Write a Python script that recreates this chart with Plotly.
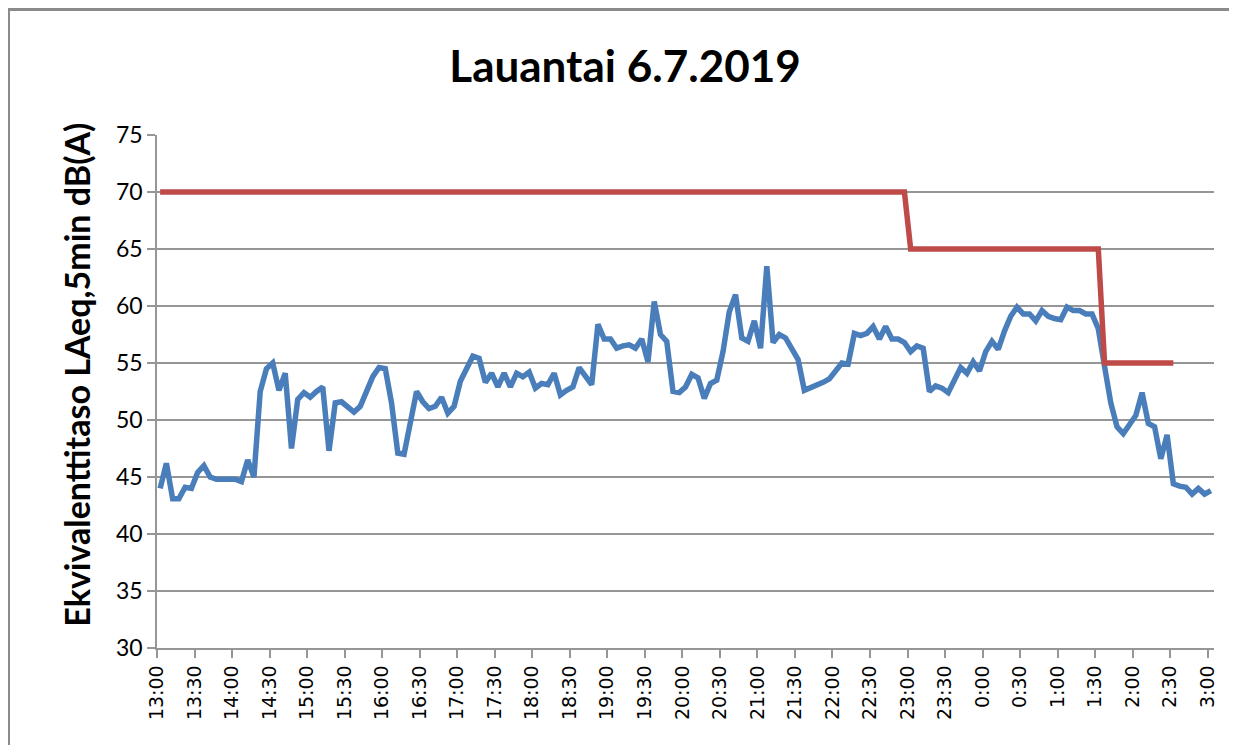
import plotly.graph_objects as go

# 5-minute measurement slots from 13:00 to 3:00 (169 points)
tick_labels = ["13:00", "13:30", "14:00", "14:30", "15:00", "15:30", "16:00", "16:30",
               "17:00", "17:30", "18:00", "18:30", "19:00", "19:30", "20:00", "20:30",
               "21:00", "21:30", "22:00", "22:30", "23:00", "23:30", "0:00", "0:30",
               "1:00", "1:30", "2:00", "2:30", "3:00"]

laeq = [44.0, 46.2, 43.1, 43.1, 44.1, 44.0, 45.4, 46.0, 45.0, 44.8, 44.8, 44.8, 44.8, 44.6, 46.5, 45.0,
        52.5, 54.5, 55.0, 52.6, 54.1, 47.5, 51.8, 52.4, 52.0, 52.5, 52.9, 47.3, 51.5,
        51.6, 51.1, 50.7, 51.2, 52.5, 53.8, 54.6, 54.5, 51.5, 47.1, 47.0, 50.0, 52.5, 51.6, 51.0, 51.2,
        52.0, 50.6, 51.2, 53.4, 54.5, 55.6, 55.4, 53.3, 54.1, 52.9, 54.1, 52.9, 54.1, 53.8, 54.2,
        52.8, 53.2, 53.1, 54.1, 52.2, 52.6, 52.9, 54.6, 53.8, 53.1, 58.4, 57.1, 57.1, 56.3, 56.5,
        56.6, 56.3, 57.1, 55.1, 60.4, 57.5, 56.9, 52.5, 52.4, 52.9, 54.0, 53.7, 51.9, 53.2, 53.5,
        56.0, 59.5, 61.0, 57.2, 56.9, 58.7, 56.3, 63.5, 56.8, 57.5, 57.2, 56.3, 55.3, 52.6, 52.8,
        53.1, 53.3, 53.6, 54.3, 55.0, 54.9, 57.6, 57.4, 57.6, 58.2, 57.1, 58.2, 57.1, 57.1, 56.8,
        56.0, 56.5, 56.3,
        52.5, 53.0, 52.8, 52.4, 53.5, 54.6, 54.1, 55.1, 54.3, 56.0, 56.9, 56.2, 57.8, 59.1, 59.9,
        59.3, 59.3, 58.7, 59.6, 59.1, 58.9, 58.8, 59.9, 59.6, 59.6, 59.3, 59.3, 58.0, 54.7, 51.5,
        49.4, 48.8, 49.6, 50.4, 52.4, 49.7, 49.4, 46.6, 48.7, 44.4, 44.2, 44.1, 43.5, 44.0, 43.5, 43.8]

limit_levels = [70, 65, 55]
limit_counts = [120, 31, 12]
limit = []
for lvl, cnt in zip(limit_levels, limit_counts):
    limit += [lvl] * cnt
limit += [None] * (len(laeq) - len(limit))

x = list(range(len(laeq)))
tick_pos = [-0.5 + 6 * k for k in range(len(tick_labels))]

fig = go.Figure()
fig.add_trace(go.Scatter(x=x, y=laeq, mode="lines",
                         line=dict(color="#4a7ebb", width=5.5), showlegend=False))
fig.add_trace(go.Scatter(x=x, y=limit, mode="lines",
                         line=dict(color="#be4b48", width=5.5), showlegend=False))

grid = "#969696"
fig.update_layout(
    width=1237, height=745,
    margin=dict(l=149, r=31, t=127, b=104.5),
    paper_bgcolor="white", plot_bgcolor="white",
    title=dict(text="Lauantai 6.7.2019", x=617 / 1237, xref="container", y=1 - 59 / 745,
               yref="container", xanchor="center", yanchor="middle",
               font=dict(family="Lato", size=44, color="black", weight="bold")),
    xaxis=dict(range=[-0.5, 168.5], tickmode="array", tickvals=tick_pos, ticktext=tick_labels,
               tickangle=-90, ticks="outside", ticklen=8, tickcolor=grid, tickwidth=1.5,
               showgrid=False, showline=True, linecolor=grid, linewidth=1.5, zeroline=False,
               tickfont=dict(family="DejaVu Sans", size=19, color="black")),
    yaxis=dict(range=[30, 75], dtick=5, tick0=30, ticks="outside", ticklen=8, tickcolor=grid,
               tickwidth=1.5, showgrid=True, gridcolor=grid, gridwidth=1.5,
               showline=True, linecolor=grid, linewidth=1.5, zeroline=False,
               tickfont=dict(family="Lato", size=23, color="black")),
    annotations=[dict(text="Ekvivalenttitaso LAeq,5min dB(A)", textangle=-90,
                      xref="paper", yref="paper", x=(77 - 157) / 1057, y=(648.5 - 375) / 513.5,
                      xanchor="center", yanchor="middle", showarrow=False,
                      font=dict(family="Lato", size=34, color="black", weight="bold"))],
    shapes=[dict(type="rect", xref="paper", yref="paper",
                 x0=(8.5 - 157) / 1057, x1=1.1, y0=-0.3, y1=(648.5 - 9.5) / 513.5,
                 line=dict(color="#8a8a8a", width=3), fillcolor="rgba(0,0,0,0)", layer="below")],
)

fig.write_html("out.html")
